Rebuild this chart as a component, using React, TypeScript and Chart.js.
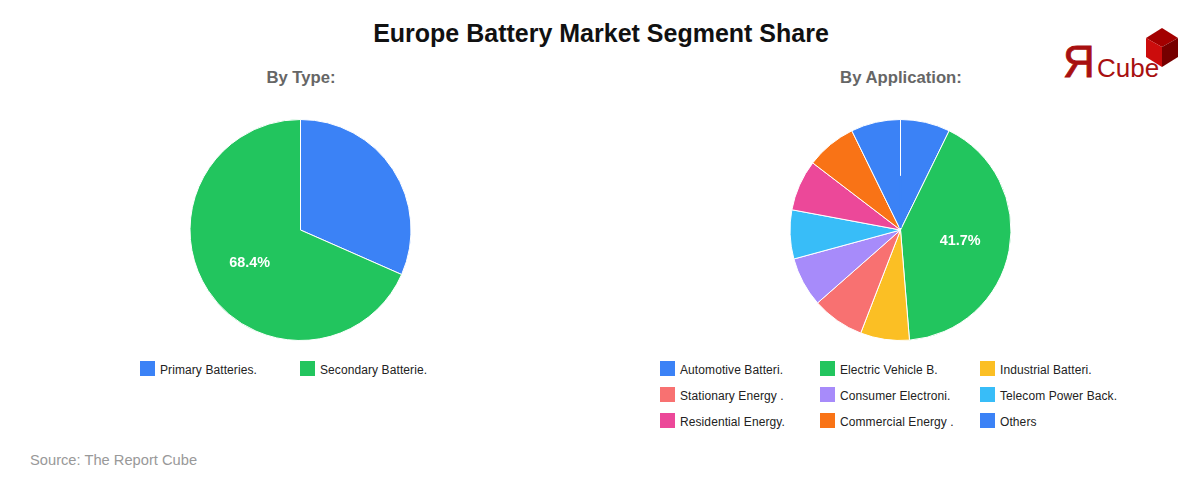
import { useEffect, useRef } from 'react';
import Chart, { ChartConfiguration, Plugin } from 'chart.js/auto';

const FONT = '"Liberation Sans", Arial, sans-serif';

const typeLabels = ['Primary Batteries.', 'Secondary Batterie.'];
const typeValues = [31.6, 68.4];
const typeColors = ['#3b82f6', '#22c55e'];

const appLabels = [
  'Automotive Batteri.',
  'Electric Vehicle B.',
  'Industrial Batteri.',
  'Stationary Energy .',
  'Consumer Electroni.',
  'Telecom Power Back.',
  'Residential Energy.',
  'Commercial Energy .',
  'Others',
];
const appValues = [7.3, 41.7, 7.2, 7.7, 7.3, 7.2, 7.5, 7.4, 7.3];
const appColors = [
  '#3b82f6',
  '#22c55e',
  '#fbbf24',
  '#f87171',
  '#a78bfa',
  '#38bdf8',
  '#ec4899',
  '#f97316',
  '#3b82f6',
];

// percentage on the biggest slice only
const biggestLabel: Plugin<'pie'> = {
  id: 'biggestLabel',
  afterDatasetsDraw(chart) {
    const values = chart.data.datasets[0].data as number[];
    const i = values.indexOf(Math.max(...values));
    const arc: any = chart.getDatasetMeta(0).data[i];
    const mid = (arc.startAngle + arc.endAngle) / 2;
    const r = arc.outerRadius * 0.55;
    const ctx = chart.ctx;
    ctx.save();
    ctx.font = `bold 14.4px ${FONT}`;
    ctx.fillStyle = '#ffffff';
    ctx.textAlign = 'center';
    ctx.textBaseline = 'middle';
    ctx.fillText(`${values[i].toFixed(1)}%`, arc.x + Math.cos(mid) * r, arc.y + Math.sin(mid) * r);
    ctx.restore();
  },
};

// when first and last slice share a colour the seam only shows on the outer half
const seamFix: Plugin<'pie'> = {
  id: 'seamFix',
  afterDatasetDraw(chart) {
    const colors = chart.data.datasets[0].backgroundColor as string[];
    if (colors[0] !== colors[colors.length - 1]) return;
    const arc: any = chart.getDatasetMeta(0).data[0];
    const ctx = chart.ctx;
    ctx.save();
    ctx.strokeStyle = colors[0];
    ctx.lineWidth = 2;
    ctx.beginPath();
    ctx.moveTo(arc.x, arc.y - 2);
    ctx.lineTo(
      arc.x + Math.cos(arc.startAngle) * arc.outerRadius * 0.49,
      arc.y + Math.sin(arc.startAngle) * arc.outerRadius * 0.49,
    );
    ctx.stroke();
    ctx.restore();
  },
};

interface PieProps {
  labels: string[];
  values: number[];
  colors: string[];
  left: number;
}

const Pie = ({ labels, values, colors, left }: PieProps) => {
  const canvasRef = useRef<HTMLCanvasElement>(null);

  useEffect(() => {
    if (!canvasRef.current) return;
    const config: ChartConfiguration<'pie', number[], string> = {
      type: 'pie',
      data: {
        labels,
        datasets: [
          {
            data: values,
            backgroundColor: colors,
            borderColor: '#ffffff',
            borderWidth: 1,
          },
        ],
      },
      options: {
        responsive: false,
        animation: false,
        layout: { padding: 9 },
        plugins: {
          legend: { display: false },
          tooltip: { enabled: false },
        },
      },
      plugins: [seamFix, biggestLabel],
    };
    const chart = new Chart(canvasRef.current, config);
    return () => chart.destroy();
  }, [labels, values, colors]);

  return (
    <canvas
      ref={canvasRef}
      width={241}
      height={240}
      style={{ position: 'absolute', left, top: 110, width: 241, height: 240 }}
    />
  );
};

const Legend = ({ labels, colors, left }: { labels: string[]; colors: string[]; left: number }) => (
  <>
    {labels.map((label, i) => (
      <div
        key={label}
        style={{
          position: 'absolute',
          left: left + (i % 3) * 160,
          top: 361 + Math.floor(i / 3) * 26,
          height: 15,
          display: 'flex',
          alignItems: 'center',
          fontSize: 12,
          letterSpacing: 0.09,
          color: '#222',
          whiteSpace: 'nowrap',
        }}
      >
        <span style={{ width: 15, height: 15, background: colors[i], marginRight: 5 }} />
        <span style={{ position: 'relative', top: 1 }}>{label}</span>
      </div>
    ))}
  </>
);

const Logo = () => (
  <svg
    width={1200}
    height={100}
    style={{ position: 'absolute', left: 0, top: 0, pointerEvents: 'none' }}
  >
    <polygon points="1162,28 1178,38 1162,47 1146,38" fill="#a30000" />
    <polygon points="1146,38 1162,47 1162,67 1146,57" fill="#cc0c0c" />
    <polygon points="1162,47 1178,38 1178,57 1162,67" fill="#760000" />
    <text x={1063} y={77} fontFamily={FONT} fontSize={44} fill="#a81010" stroke="#a81010" strokeWidth={0.8}>
      Я
    </text>
    <text x={1097} y={77} fontFamily={FONT} fontSize={26} fill="#a81010">
      Cube
    </text>
  </svg>
);

const centered = (x: number, y: number, size: number, color: string): React.CSSProperties => ({
  position: 'absolute',
  left: x - 300,
  width: 600,
  top: y - 20,
  height: 40,
  lineHeight: '40px',
  textAlign: 'center',
  fontSize: size,
  fontWeight: 'bold',
  color,
});

export default function App() {
  return (
    <div
      style={{
        position: 'absolute',
        left: 0,
        top: 0,
        width: 1200,
        height: 480,
        overflow: 'hidden',
        background: '#fff',
        fontFamily: FONT,
      }}
    >
      <div style={centered(601, 33, 25, '#111')}>Europe Battery Market Segment Share</div>
      <div style={centered(301, 78, 16.7, '#666')}>By Type:</div>
      <div style={centered(901, 78, 16.7, '#666')}>By Application:</div>
      <Pie labels={typeLabels} values={typeValues} colors={typeColors} left={180} />
      <Pie labels={appLabels} values={appValues} colors={appColors} left={780} />
      <Legend labels={typeLabels} colors={typeColors} left={140} />
      <Legend labels={appLabels} colors={appColors} left={660} />
      <div style={{ position: 'absolute', left: 30, top: 452, fontSize: 14.7, color: '#999' }}>
        Source: The Report Cube
      </div>
      <Logo />
    </div>
  );
}
